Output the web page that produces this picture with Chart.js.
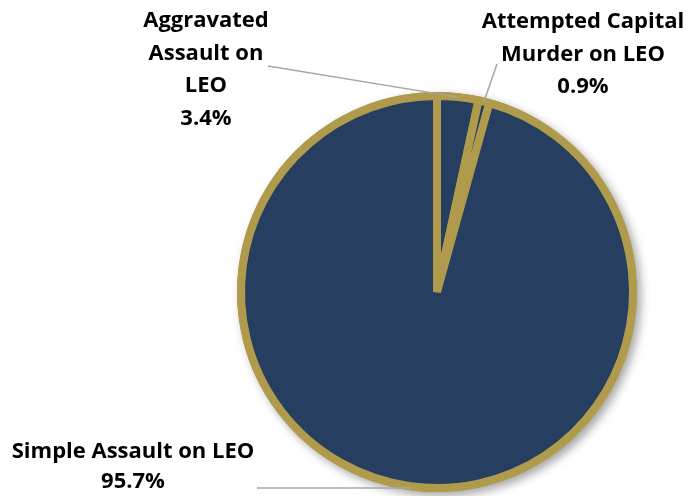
<!DOCTYPE html>
<html><head><meta charset="utf-8">
<script src="https://cdn.jsdelivr.net/npm/chart.js@4/dist/chart.umd.min.js"></script>
<style>html,body{margin:0;padding:0;background:#fff}#wrap{width:689px;height:496px}</style>
</head><body><div id="wrap"><canvas id="c" width="689" height="496"></canvas></div>
<script>
const categories = ["Aggravated Assault on LEO", "Attempted Capital Murder on LEO", "Simple Assault on LEO"];
const values = [3.4, 0.9, 95.7];
const labelLines = [["Aggravated", "Assault on", "LEO"], ["Attempted Capital", "Murder on LEO"], ["Simple Assault on LEO"]];

const NAVY = '#263f60';
const GOLD = '#b09a4b';

// label layout: text center x, first line center y, leader start point
const labelLayout = [
  {x: 206, y: 21, sx: 268, sy: 66},
  {x: 583, y: 22, sx: 497, sy: 64},
  {x: 133, y: 452, sx: 257, sy: 488, hz: true}
];

const shadowPlugin = {
  id: 'shadow',
  beforeDatasetsDraw(chart) {
    const arc = chart.getDatasetMeta(0).data[0];
    if (!arc) return;
    const ctx = chart.ctx;
    ctx.save();
    ctx.shadowColor = 'rgba(0,0,0,0.35)';
    ctx.shadowBlur = 10;
    ctx.shadowOffsetX = 4;
    ctx.shadowOffsetY = 4;
    ctx.fillStyle = GOLD;
    ctx.beginPath();
    ctx.arc(arc.x, arc.y, arc.outerRadius + 4, 0, Math.PI * 2);
    ctx.fill();
    ctx.restore();
  }
};

const labelPlugin = {
  id: 'pieLabels',
  afterDatasetsDraw(chart) {
    const ctx = chart.ctx;
    const meta = chart.getDatasetMeta(0);
    ctx.save();
    meta.data.forEach((arc, i) => {
      const L = labelLayout[i];
      const mid = (arc.startAngle + arc.endAngle) / 2;
      const ex = arc.x + Math.cos(mid) * arc.outerRadius;
      const ey = arc.y + Math.sin(mid) * arc.outerRadius;
      ctx.strokeStyle = '#a6a6a6';
      ctx.lineWidth = 1.5;
      ctx.beginPath();
      ctx.moveTo(L.sx, L.sy);
      if (L.hz) ctx.lineTo(ex, L.sy);
      else ctx.lineTo(ex, ey);
      ctx.stroke();
      ctx.fillStyle = '#000';
      ctx.font = 'bold 22px "Open Sans", sans-serif';
      ctx.textAlign = 'center';
      ctx.textBaseline = 'middle';
      const lines = labelLines[i].concat([values[i].toFixed(1) + '%']);
      const lh = lines.length > 2 ? 32.5 : 30;
      lines.forEach((t, k) => ctx.fillText(t, L.x, L.y + k * lh));
    });
    ctx.restore();
  }
};

new Chart(document.getElementById('c'), {
  type: 'pie',
  data: {
    labels: categories,
    datasets: [{
      data: values,
      backgroundColor: NAVY,
      borderColor: GOLD,
      borderWidth: 8,
      radius: 196
    }]
  },
  options: {
    responsive: false,
    animation: false,
    layout: {padding: {left: 185, right: 0, top: 88, bottom: 0}},
    plugins: {legend: {display: false}, tooltip: {enabled: false}}
  },
  plugins: [shadowPlugin, labelPlugin]
});
</script>
</body></html>
